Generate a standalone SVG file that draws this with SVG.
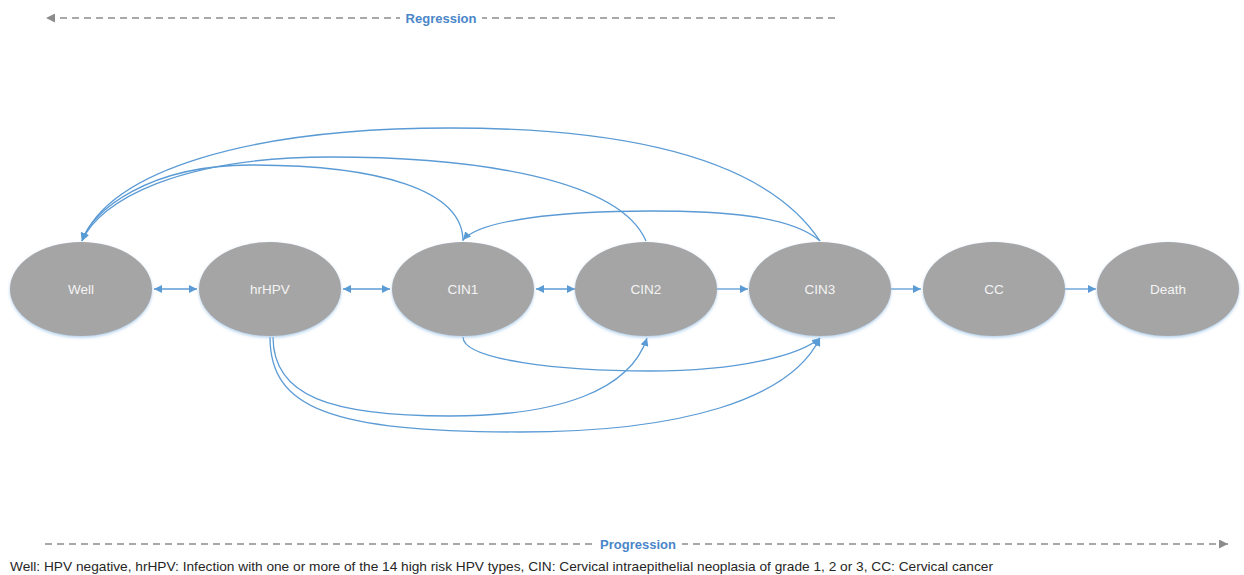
<svg xmlns="http://www.w3.org/2000/svg" width="1244" height="575" viewBox="0 0 1244 575">
<style>
.node ellipse{fill:#a5a5a5;filter:url(#glow)}
.node text{fill:#f4f4f4;font-family:"Liberation Sans",Arial,sans-serif;font-size:13.5px;text-anchor:middle}
.conn path{fill:none;stroke:#5b9bd5;stroke-width:1.3}
.axis line{stroke:#8c8c8c;stroke-width:1.3;stroke-dasharray:7,5}
.axis text{fill:#4a86c8;font-family:"Liberation Sans",Arial,sans-serif;font-size:13px;font-weight:bold;text-anchor:middle}
.caption{fill:#262626;font-family:"Liberation Sans",Arial,sans-serif;font-size:13.5px}
</style>
<defs>
<filter id="glow" x="-10%" y="-10%" width="120%" height="125%">
<feDropShadow dx="0" dy="1.5" stdDeviation="1.5" flood-color="#9cc3e6" flood-opacity="0.8"/>
</filter>
<marker id="ah" viewBox="0 0 10 10" refX="10" refY="5" markerWidth="8" markerHeight="8" markerUnits="userSpaceOnUse" orient="auto-start-reverse">
<path d="M0,0 L10,5 L0,10 Z" fill="#5b9bd5"/>
</marker>
<marker id="ahg" viewBox="0 0 10 10" refX="10" refY="5" markerWidth="10" markerHeight="9" markerUnits="userSpaceOnUse" orient="auto-start-reverse">
<path d="M0,0 L10,5 L0,10 Z" fill="#8c8c8c"/>
</marker>
</defs>
<rect width="1244" height="575" fill="#ffffff"/>

<g class="axis" id="regression">
<line x1="835" y1="18" x2="46" y2="18" marker-end="url(#ahg)"/>
<rect x="400" y="9" width="82" height="18" fill="#fff"/>
<text x="441" y="23">Regression</text>
</g>
<g class="axis" id="progression">
<line x1="45" y1="544" x2="1228" y2="544" marker-end="url(#ahg)"/>
<rect x="595" y="535" width="87" height="18" fill="#fff"/>
<text x="638" y="549">Progression</text>
</g>

<g class="conn" id="connectors">
<path d="M154,289 L197,289" marker-start="url(#ah)" marker-end="url(#ah)"/>
<path d="M343,289 L390,289" marker-start="url(#ah)" marker-end="url(#ah)"/>
<path d="M536,289 L575,289" marker-start="url(#ah)" marker-end="url(#ah)"/>
<path d="M717,289 L748,289" marker-end="url(#ah)"/>
<path d="M891,289 L921,289" marker-end="url(#ah)"/>
<path d="M1065,289 L1096,289" marker-end="url(#ah)"/>
<path d="M820,241 C760,150 600,128 450,128 C250,128 110,170 82,241" marker-end="url(#ah)"/>
<path d="M646,241 C620,180 480,157 330,157 C180,157 100,200 82,241" marker-end="url(#ah)"/>
<path d="M463,241 C463,190 380,165 250,165 C150,165 92,210 82,241" marker-end="url(#ah)"/>
<path d="M820,241 C790,215 720,211 650,211 C560,211 480,220 463,240" marker-end="url(#ah)"/>
<path d="M273,337 C273,396 330,416 450,416 C560,416 630,390 647,338" marker-end="url(#ah)"/>
<path d="M270,337 C270,408 330,432 520,432 C680,432 790,400 820,338" marker-end="url(#ah)"/>
<path d="M463,337 C463,360 560,371 650,371 C740,371 800,355 820,338" marker-end="url(#ah)"/>
</g>

<g class="node" id="well"><ellipse cx="81" cy="289" rx="71" ry="47"/><text x="81" y="294">Well</text></g>
<g class="node" id="hrhpv"><ellipse cx="270" cy="289" rx="71" ry="47"/><text x="270" y="294">hrHPV</text></g>
<g class="node" id="cin1"><ellipse cx="463" cy="289" rx="71" ry="47"/><text x="463" y="294">CIN1</text></g>
<g class="node" id="cin2"><ellipse cx="646" cy="289" rx="71" ry="47"/><text x="646" y="294">CIN2</text></g>
<g class="node" id="cin3"><ellipse cx="820" cy="289" rx="71" ry="47"/><text x="820" y="294">CIN3</text></g>
<g class="node" id="cc"><ellipse cx="994" cy="289" rx="71" ry="47"/><text x="994" y="294">CC</text></g>
<g class="node" id="death"><ellipse cx="1168" cy="289" rx="71" ry="47"/><text x="1168" y="294">Death</text></g>

<text class="caption" x="10" y="571" textLength="983" lengthAdjust="spacingAndGlyphs">Well: HPV negative, hrHPV: Infection with one or more of the 14 high risk HPV types, CIN: Cervical intraepithelial neoplasia of grade 1, 2 or 3, CC: Cervical cancer</text>
</svg>
